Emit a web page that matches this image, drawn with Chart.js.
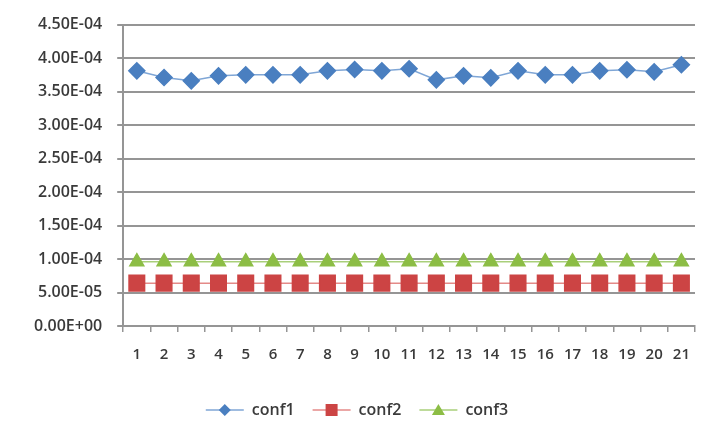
<!DOCTYPE html>
<html>
<head>
<meta charset="utf-8">
<script src="https://cdn.jsdelivr.net/npm/chart.js@4/dist/chart.umd.min.js"></script>
<style>
  html, body { margin: 0; padding: 0; background: #fff; }
  #wrap { width: 709px; height: 439px; position: relative; }
</style>
</head>
<body>
<div id="wrap"><canvas id="lineChart" width="709" height="439"></canvas></div>
<script>
"use strict";

// run numbers 1..21
const categories = ["1","2","3","4","5","6","7","8","9","10","11","12","13","14","15","16","17","18","19","20","21"];
const conf1 = [3.81e-4, 3.71e-4, 3.66e-4, 3.735e-4, 3.75e-4, 3.75e-4, 3.75e-4, 3.81e-4, 3.83e-4, 3.81e-4, 3.84e-4,
               3.675e-4, 3.735e-4, 3.705e-4, 3.81e-4, 3.75e-4, 3.75e-4, 3.81e-4, 3.825e-4, 3.795e-4, 3.90e-4];
const conf2 = [6.4e-5, 6.4e-5, 6.4e-5, 6.4e-5, 6.4e-5, 6.4e-5, 6.4e-5, 6.4e-5, 6.4e-5, 6.4e-5, 6.4e-5,
               6.4e-5, 6.4e-5, 6.4e-5, 6.4e-5, 6.4e-5, 6.4e-5, 6.4e-5, 6.4e-5, 6.4e-5, 6.4e-5];
const conf3 = [9.6e-5, 9.6e-5, 9.6e-5, 9.6e-5, 9.6e-5, 9.6e-5, 9.6e-5, 9.6e-5, 9.6e-5, 9.6e-5, 9.6e-5,
               9.6e-5, 9.6e-5, 9.6e-5, 9.6e-5, 9.6e-5, 9.6e-5, 9.6e-5, 9.6e-5, 9.6e-5, 9.6e-5];
const yTicks = [0, 5e-5, 1e-4, 1.5e-4, 2e-4, 2.5e-4, 3e-4, 3.5e-4, 4e-4, 4.5e-4];

const fontFamily = "'Open Sans', 'Liberation Sans', sans-serif";
const textColor = "#3a3a3a";
const gridColor = "#959595";
const legendBoxW = 38;

// Excel-style legend key: short line with the marker on top
const legendKeys = {
    id: "legendKeys",
    afterDraw(chart) {
        const legend = chart.legend;
        if (!legend || !legend.legendHitBoxes) return;
        const ctx = chart.ctx;
        legend.legendHitBoxes.forEach((box, i) => {
            const ds = chart.data.datasets[i];
            const cx = box.left + legendBoxW / 2;
            const cy = box.top + box.height / 2;
            ctx.save();
            ctx.strokeStyle = ds.borderColor;
            ctx.lineWidth = 1.5;
            ctx.beginPath();
            ctx.moveTo(box.left, cy);
            ctx.lineTo(box.left + legendBoxW, cy);
            ctx.stroke();
            ctx.fillStyle = ds.backgroundColor;
            ctx.beginPath();
            if (ds.pointStyle === "rectRot") {
                const r = 6;
                ctx.moveTo(cx, cy - r);
                ctx.lineTo(cx + r, cy);
                ctx.lineTo(cx, cy + r);
                ctx.lineTo(cx - r, cy);
            } else if (ds.pointStyle === "rect") {
                ctx.rect(cx - 6, cy - 6, 12, 12);
            } else {
                ctx.moveTo(cx, cy - 6);
                ctx.lineTo(cx + 6.5, cy + 5);
                ctx.lineTo(cx - 6.5, cy + 5);
            }
            ctx.closePath();
            ctx.fill();
            ctx.restore();
        });
    }
};

new Chart(document.getElementById("lineChart"), {
    type: "line",
    data: {
        labels: categories,
        datasets: [{
            label: "conf1",
            data: conf1,
            borderColor: "#7fa6d6",
            backgroundColor: "#4a7fc0",
            pointBorderColor: "#4a7fc0",
            borderWidth: 1.5,
            pointStyle: "rectRot",
            pointRadius: 8,
            pointHoverRadius: 8
        }, {
            label: "conf2",
            data: conf2,
            borderColor: "#e48a88",
            backgroundColor: "#cc4444",
            pointBorderColor: "#cc4444",
            borderWidth: 1.5,
            pointStyle: "rect",
            pointRadius: 11,
            pointHoverRadius: 11
        }, {
            label: "conf3",
            data: conf3,
            borderColor: "#a9cf7a",
            backgroundColor: "#8cbd45",
            pointBorderColor: "#8cbd45",
            borderWidth: 1.5,
            pointStyle: "triangle",
            pointRadius: 8,
            pointHoverRadius: 8
        }]
    },
    options: {
        responsive: false,
        animation: false,
        layout: { padding: { left: 19, right: 14, top: 23, bottom: 11 } },
        plugins: {
            tooltip: { enabled: false },
            legend: {
                position: "bottom",
                labels: {
                    boxWidth: legendBoxW,
                    boxHeight: 8,
                    padding: 18,
                    color: textColor,
                    font: { family: fontFamily, size: 16, weight: "600" },
                    generateLabels(chart) {
                        return chart.data.datasets.map((ds, i) => ({
                            text: ds.label,
                            fillStyle: "rgba(0,0,0,0)",
                            strokeStyle: "rgba(0,0,0,0)",
                            lineWidth: 0,
                            datasetIndex: i,
                            fontColor: textColor
                        }));
                    }
                }
            }
        },
        scales: {
            x: {
                offset: true,
                afterFit(scale) { scale.height += 6; },
                grid: {
                    offset: true,
                    drawOnChartArea: false,
                    color: gridColor,
                    tickColor: gridColor,
                    tickLength: 6,
                    lineWidth: 1.5
                },
                border: { color: gridColor, width: 2 },
                ticks: {
                    padding: 14,
                    maxRotation: 0,
                    autoSkip: false,
                    color: textColor,
                    font: { family: fontFamily, size: 15, weight: "600" }
                }
            },
            y: {
                min: 0,
                max: 4.5e-4,
                afterBuildTicks(axis) {
                    axis.ticks = yTicks.map(v => ({ value: v }));
                },
                grid: {
                    color: gridColor,
                    lineWidth: 2,
                    tickLength: 6
                },
                border: { color: gridColor, width: 2 },
                ticks: {
                    padding: 15,
                    color: textColor,
                    font: { family: fontFamily, size: 16, weight: "600" },
                    callback(v) {
                        return Number(v).toExponential(2).toUpperCase().replace(/E([+-])(\d)$/, "E$10$2");
                    }
                }
            }
        }
    },
    plugins: [legendKeys]
});
</script>
</body>
</html>
